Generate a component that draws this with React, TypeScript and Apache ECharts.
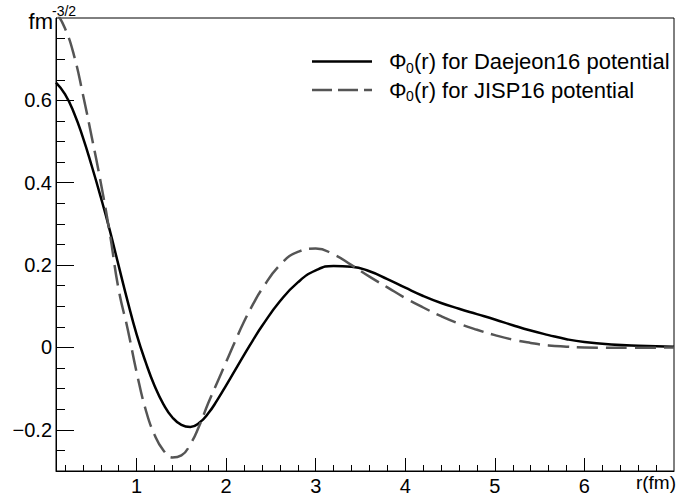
import React, { useEffect, useRef } from 'react';
import * as echarts from 'echarts';

// Daejeon16 wave function (solid black)
const R_DAEJEON = [0.1, 0.2, 0.3, 0.4, 0.5, 0.6, 0.7, 0.8, 0.9, 1.0, 1.1, 1.2, 1.3, 1.4, 1.5, 1.6, 1.7, 1.8, 1.9, 2.0, 2.1, 2.2, 2.3, 2.4, 2.6, 2.8, 3.0, 3.2, 3.4, 3.6, 3.8, 4.0, 4.2, 4.4, 4.6, 4.8, 5.0, 5.2, 5.4, 5.6, 5.8, 6.0, 6.3, 6.6, 7.0];
const PHI_DAEJEON = [0.643, 0.615, 0.57, 0.51, 0.44, 0.365, 0.285, 0.198, 0.112, 0.032, -0.035, -0.093, -0.138, -0.17, -0.188, -0.193, -0.183, -0.16, -0.128, -0.092, -0.055, -0.018, 0.018, 0.052, 0.112, 0.158, 0.187, 0.198, 0.196, 0.185, 0.166, 0.145, 0.125, 0.108, 0.094, 0.081, 0.068, 0.054, 0.041, 0.03, 0.02, 0.013, 0.007, 0.004, 0.002];

// JISP16 wave function (dashed grey)
const R_JISP = [0.1, 0.2, 0.3, 0.4, 0.5, 0.6, 0.7, 0.8, 0.9, 1.0, 1.1, 1.2, 1.3, 1.4, 1.5, 1.6, 1.7, 1.8, 1.9, 2.0, 2.1, 2.2, 2.3, 2.4, 2.6, 2.8, 3.0, 3.2, 3.4, 3.6, 3.8, 4.0, 4.2, 4.4, 4.6, 4.8, 5.0, 5.2, 5.4, 5.6, 5.8, 6.0, 6.5, 7.0];
const PHI_JISP = [0.815, 0.775, 0.71, 0.615, 0.51, 0.4, 0.278, 0.14, 0.045, -0.06, -0.15, -0.212, -0.25, -0.267, -0.262, -0.235, -0.19, -0.135, -0.085, -0.035, 0.015, 0.063, 0.105, 0.142, 0.2, 0.232, 0.24, 0.226, 0.2, 0.172, 0.146, 0.12, 0.097, 0.076, 0.058, 0.043, 0.03, 0.019, 0.011, 0.005, 0.002, 0.0, -0.001, 0.0];

const X_LABELS = [1, 2, 3, 4, 5, 6];
const Y_LABELS = [-0.2, 0, 0.2, 0.4, 0.6];

const X_MIN = 0.1, X_MAX = 7;
const Y_MIN = -0.3, Y_MAX = 0.8;

const X_MINOR: number[] = [];
for (let i = 1; i < 35; i++) if (i % 5 !== 0) X_MINOR.push(Math.round(i * 0.2 * 100) / 100);
const Y_MINOR: number[] = [];
for (let i = -5; i <= 15; i++) if (i % 4 !== 0) Y_MINOR.push(Math.round(i * 0.05 * 100) / 100);

const FONT = 'Liberation Sans, Arial, Helvetica, sans-serif';

export default function App() {
  const ref = useRef<HTMLDivElement>(null);
  useEffect(() => {
    if (!ref.current) return;
    const chart = echarts.init(ref.current, null, { renderer: 'svg' });
    const fmtY = (v: number) => (v === 0 ? '0' : v < 0 ? '\u2212' + Math.abs(v).toFixed(1) : v.toFixed(1));
    const legendRow = (y: number, label: string) => [
      { type: 'text', x: 389, y: y, style: { text: '\u03A6', fontSize: 22, fontFamily: FONT, fill: '#000', textAlign: 'left', verticalAlign: 'middle' } },
      { type: 'text', x: 406, y: y + 6, style: { text: '0', fontSize: 14, fontFamily: FONT, fill: '#000', textAlign: 'left', verticalAlign: 'middle' } },
      { type: 'text', x: 414, y: y, style: { text: label, fontSize: 22, fontFamily: FONT, fill: '#000', textAlign: 'left', verticalAlign: 'middle' } },
    ];
    chart.setOption({
      animation: false,
      grid: { left: 56, right: 23, top: 18, bottom: 23, show: true, borderColor: '#000', borderWidth: 1, backgroundColor: 'transparent' },
      xAxis: [
        {
          type: 'value', min: X_MIN, max: X_MAX, position: 'bottom',
          axisLine: { show: true, onZero: false, lineStyle: { color: '#000', width: 1 } },
          axisTick: { show: true, inside: true, length: 13, customValues: X_LABELS, lineStyle: { color: '#000', width: 1 } },
          axisLabel: { customValues: X_LABELS, fontSize: 20, fontFamily: FONT, color: '#000', margin: 5, formatter: (v: number) => String(v) },
          splitLine: { show: false },
        },
        {
          type: 'value', min: X_MIN, max: X_MAX, position: 'bottom', offset: 0,
          axisLine: { show: false, onZero: false },
          axisTick: { show: true, inside: true, length: 6, customValues: X_MINOR, lineStyle: { color: '#000', width: 1 } },
          axisLabel: { show: false },
          splitLine: { show: false },
        },
      ],
      yAxis: [
        {
          type: 'value', min: Y_MIN, max: Y_MAX, position: 'left',
          axisLine: { show: true, onZero: false, lineStyle: { color: '#000', width: 1 } },
          axisTick: { show: true, inside: true, length: 18, customValues: Y_LABELS, lineStyle: { color: '#000', width: 1 } },
          axisLabel: { customValues: Y_LABELS, fontSize: 20, fontFamily: FONT, color: '#000', margin: 4, formatter: fmtY },
          splitLine: { show: false },
        },
        {
          type: 'value', min: Y_MIN, max: Y_MAX, position: 'left', offset: 0,
          axisLine: { show: false, onZero: false },
          axisTick: { show: true, inside: true, length: 9, customValues: Y_MINOR, lineStyle: { color: '#000', width: 1 } },
          axisLabel: { show: false },
          splitLine: { show: false },
        },
      ],
      series: [
        {
          name: 'Daejeon16', type: 'line', xAxisIndex: 0, yAxisIndex: 0, smooth: true, showSymbol: false, clip: true,
          lineStyle: { color: '#000', width: 2.5 },
          data: R_DAEJEON.map((r, i) => [r, PHI_DAEJEON[i]]),
        },
        {
          name: 'JISP16', type: 'line', xAxisIndex: 0, yAxisIndex: 0, smooth: true, showSymbol: false, clip: true,
          lineStyle: { color: '#555', width: 2.5, type: [21, 8] },
          data: R_JISP.map((r, i) => [r, PHI_JISP[i]]),
        },
      ],
      graphic: [
        { type: 'line', shape: { x1: 312, y1: 61.5, x2: 372, y2: 61.5 }, style: { stroke: '#000', lineWidth: 2.5 } },
        { type: 'line', shape: { x1: 312, y1: 90, x2: 372, y2: 90 }, style: { stroke: '#555', lineWidth: 2.5, lineDash: [20, 6] } },
        ...legendRow(61.5, '(r) for Daejeon16 potential'),
        ...legendRow(90, '(r) for JISP16 potential'),
        { type: 'text', x: 53, y: 21, style: { text: 'fm', fontSize: 22, fontFamily: FONT, fill: '#000', textAlign: 'right', verticalAlign: 'middle' } },
        { type: 'text', x: 52, y: 11, style: { text: '-3/2', fontSize: 14, fontFamily: FONT, fill: '#000', textAlign: 'left', verticalAlign: 'middle' } },
        { type: 'text', x: 676, y: 482, style: { text: 'r(fm)', fontSize: 19, fontFamily: FONT, fill: '#000', textAlign: 'right', verticalAlign: 'middle' } },
      ],
    });
    return () => chart.dispose();
  }, []);
  return <div ref={ref} style={{ position: 'absolute', left: 0, top: 0, width: 697, height: 496 }} />;
}
